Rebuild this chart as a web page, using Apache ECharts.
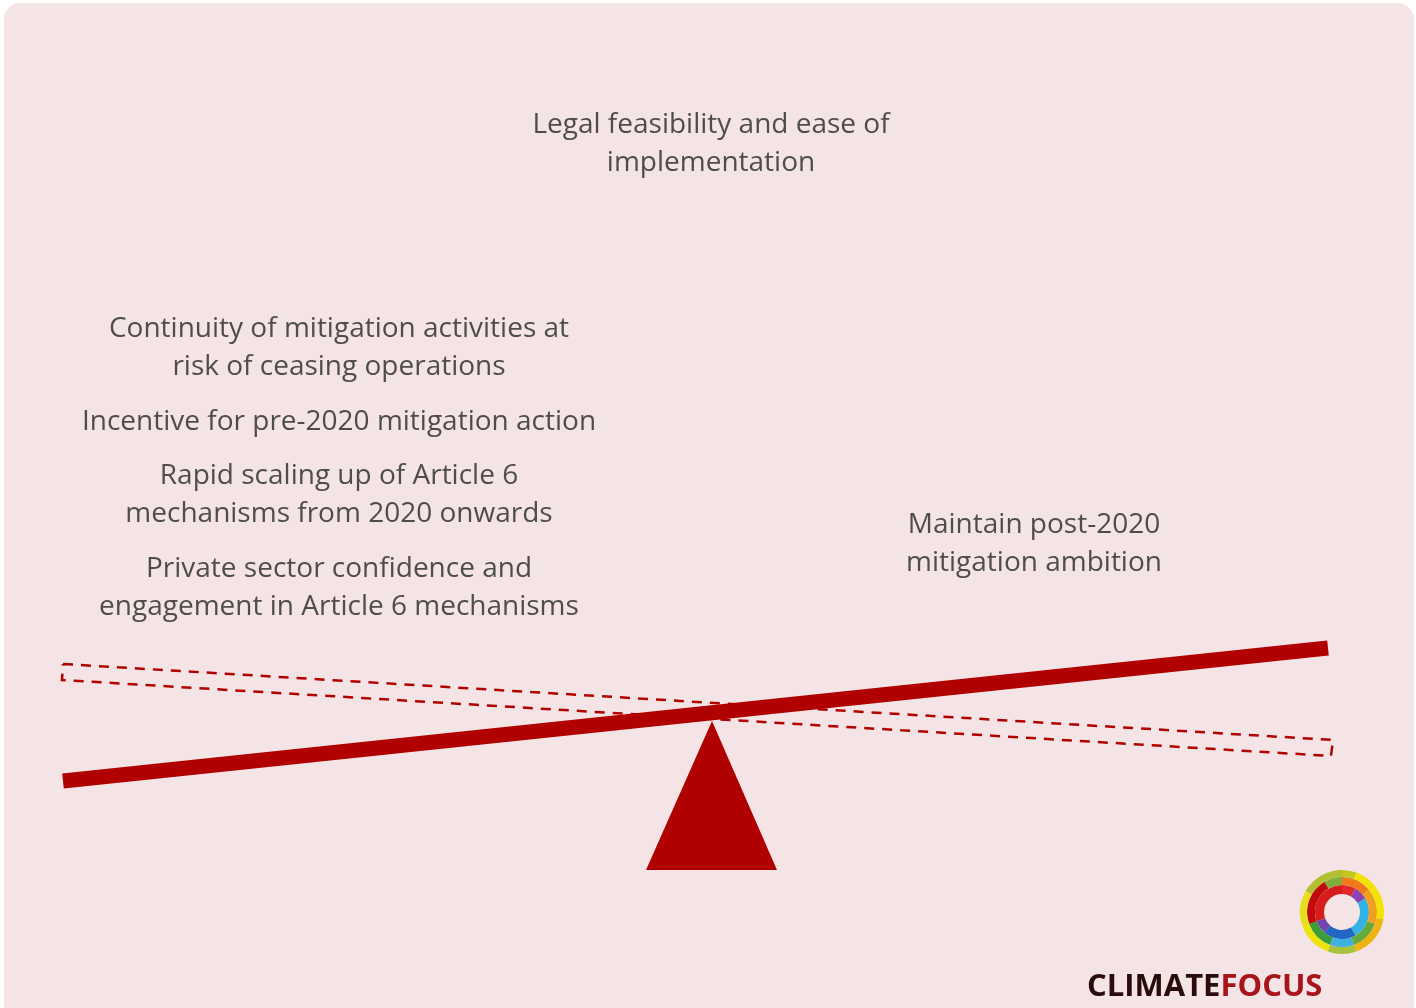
<!DOCTYPE html>
<html>
<head>
<meta charset="utf-8">
<script src="https://cdn.jsdelivr.net/npm/echarts@6/dist/echarts.min.js"></script>
<style>
html, body { margin: 0; padding: 0; background: #ffffff; }
#main { width: 1416px; height: 1008px; }
</style>
</head>
<body>
<div id="main"></div>
<script>
// seesaw drawn on a hidden 1:1 pixel grid (y grows downward)
var beamNow = [[63, 781], [1328, 648]];
var beamBefore = [[63, 664], [1333, 740], [1331, 756], [62, 680], [63, 664]];
var fulcrum = [[712, 721], [646, 870], [777, 870]];

// text blocks and their anchor points
var blockTexts = [
    'Legal feasibility and ease of\nimplementation',
    'Continuity of mitigation activities at\nrisk of ceasing operations',
    'Incentive for pre-2020 mitigation action',
    'Rapid scaling up of Article 6\nmechanisms from 2020 onwards',
    'Private sector confidence and\nengagement in Article 6 mechanisms',
    'Maintain post-2020\nmitigation ambition'
];
var blockAnchors = [[711, 144], [339, 348], [339, 422], [339, 495], [339, 588], [1034, 544]];

// logo rings (degrees clockwise from 12 o'clock)
var logoCenter = [1342, 912];
var ringRadius = [[18, 27], [27, 35], [35, 42]];
var ringSegments = [
    [[0, 30], [30, 60], [60, 150], [150, 220], [220, 250], [250, 360]],
    [[0, 50], [50, 110], [110, 160], [160, 200], [200, 250], [250, 330], [330, 360]],
    [[0, 20], [20, 100], [100, 160], [160, 200], [200, 250], [250, 300], [300, 360]]
];
var ringColors = [
    ['#e3262a', '#8a44b8', '#33b2e6', '#2266c4', '#7444b0', '#d81c1c'],
    ['#f07a1c', '#f0a01e', '#66aa3e', '#3fb0e0', '#3c9e3a', '#c20c0c', '#7fae3a'],
    ['#c4c622', '#f2e205', '#f0b412', '#a9c23e', '#ece40a', '#e6de1e', '#b0c030']
];

var logoData = [];
ringSegments.forEach(function (segs, ri) {
    segs.forEach(function (s, si) {
        logoData.push([ri, s[0], s[1], si]);
    });
});

var chart = echarts.init(document.getElementById('main'));

var option = {
    animation: false,
    backgroundColor: '#ffffff',
    grid: { left: 0, right: 0, top: 0, bottom: 0 },
    xAxis: { type: 'value', min: 0, max: 1416, show: false },
    yAxis: { type: 'value', min: 0, max: 1008, inverse: true, show: false },
    graphic: [
        {
            type: 'rect',
            z: -10,
            shape: { x: 4, y: 3, width: 1410, height: 1040, r: 16 },
            style: { fill: '#f5e4e5' }
        },
        {
            type: 'text',
            x: 1087,
            y: 987,
            style: {
                text: '{a|CLIMATE}{b|FOCUS}',
                verticalAlign: 'middle',
                rich: {
                    a: { fontFamily: 'Open Sans', fontWeight: 'bold', fontSize: 31, fill: '#2a0c0c' },
                    b: { fontFamily: 'Open Sans', fontWeight: 'bold', fontSize: 31, fill: '#a8141a' }
                }
            }
        }
    ],
    series: [
        {
            // previous (dashed) beam position
            type: 'line',
            data: beamBefore,
            symbol: 'none',
            silent: true,
            lineStyle: { color: '#b00000', width: 2.5, type: [10, 8], join: 'miter' },
            z: 2
        },
        {
            // current beam
            type: 'line',
            data: beamNow,
            symbol: 'none',
            silent: true,
            lineStyle: { color: '#b00000', width: 15, cap: 'butt' },
            z: 3
        },
        {
            // fulcrum
            type: 'custom',
            data: [0],
            silent: true,
            z: 4,
            renderItem: function (params, api) {
                return {
                    type: 'polygon',
                    shape: { points: fulcrum.map(function (p) { return api.coord(p); }) },
                    style: { fill: '#b00000' }
                };
            }
        },
        {
            // logo rings
            type: 'custom',
            data: logoData,
            silent: true,
            z: 4,
            renderItem: function (params, api) {
                var ri = api.value(0);
                var c = api.coord(logoCenter);
                var k = api.size([1, 0])[0];
                var toRad = function (d) { return (d - 90) * Math.PI / 180; };
                return {
                    type: 'sector',
                    shape: {
                        cx: c[0], cy: c[1],
                        r0: ringRadius[ri][0] * k,
                        r: ringRadius[ri][1] * k,
                        startAngle: toRad(api.value(1)),
                        endAngle: toRad(api.value(2)),
                        clockwise: true
                    },
                    style: { fill: ringColors[ri][api.value(3)] }
                };
            }
        },
        {
            // text blocks
            type: 'scatter',
            symbolSize: 0,
            silent: true,
            z: 5,
            data: blockTexts.map(function (t, i) {
                return { name: t, value: blockAnchors[i] };
            }),
            label: {
                show: true,
                position: 'inside',
                formatter: function (p) { return p.name; },
                fontFamily: 'Open Sans',
                fontSize: 28,
                lineHeight: 38,
                color: '#262626',
                align: 'center',
                verticalAlign: 'middle'
            }
        }
    ]
};

chart.setOption(option);
</script>
</body>
</html>
